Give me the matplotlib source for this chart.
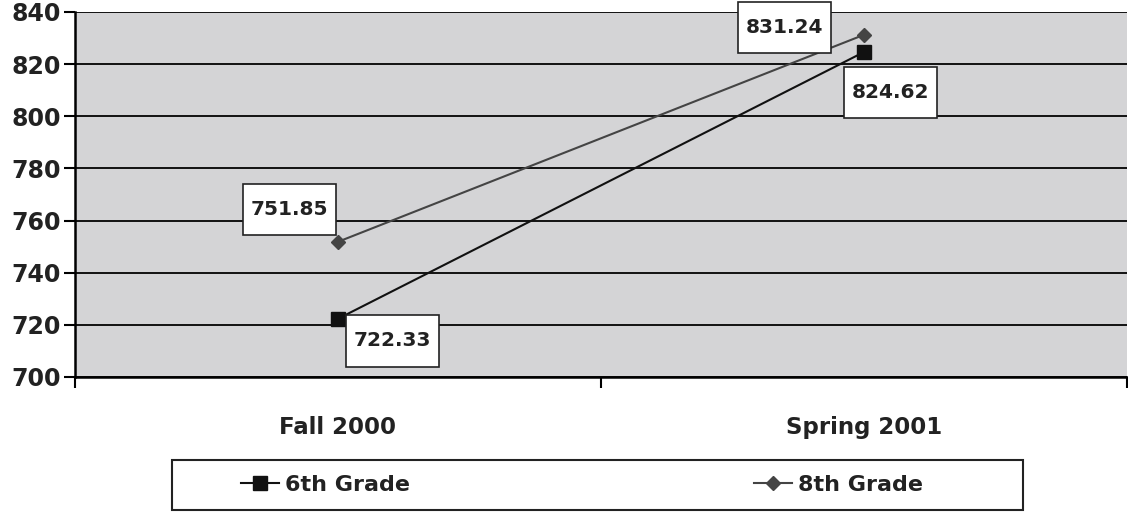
import matplotlib
matplotlib.use("Agg")
import matplotlib.pyplot as plt
from matplotlib.patches import Rectangle
from matplotlib.path import Path

categories = ["Fall 2000", "Spring 2001"]
grade6 = [722.33, 824.62]
grade8 = [751.85, 831.24]
series_names = ["6th Grade", "8th Grade"]
yticks = [700, 720, 740, 760, 780, 800, 820, 840]

plt.rcParams['font.family'] = ['DejaVu Sans']
plt.rcParams['font.weight'] = 'bold'


class PadBox:
    def __init__(self, padx, pady):
        self.padx = padx
        self.pady = pady

    def __call__(self, x0, y0, width, height, mutation_size):
        px = self.padx * mutation_size
        py = self.pady * mutation_size
        x0, y0 = x0 - px, y0 - py
        x1, y1 = x0 + width + 2 * px, y0 + height + 2 * py
        return Path([(x0, y0), (x1, y0), (x1, y1), (x0, y1), (x0, y0)], closed=True)


fig = plt.figure(figsize=(11.28, 5.12), dpi=100)
ax = fig.add_axes([0.0665, 0.2637, 0.9325, 0.7129])
ax.set_facecolor('#d4d4d6')

x = list(range(len(categories)))
l6, = ax.plot(x, grade6, color='#111111', lw=1.5, marker='s', markersize=10,
              markeredgecolor='#111111', markerfacecolor='#111111', zorder=4)
l8, = ax.plot(x, grade8, color='#444444', lw=1.5, marker='D', markersize=7,
              markeredgecolor='#444444', markerfacecolor='#444444', zorder=4)

ax.set_xlim(-0.5, 1.5)
ax.set_ylim(700, 840)
ax.set_yticks(yticks)
ax.set_yticklabels([str(v) for v in yticks], fontsize=17, fontweight='bold', color='#222222')
for v in yticks:
    ax.axhline(v, color='#111111', lw=1.4, zorder=1)

ax.set_xticks([-0.5, 0.5, 1.5])
ax.set_xticklabels(['', '', ''])
ax.set_xticks(x, minor=True)
ax.set_xticklabels(categories, minor=True, fontsize=16.5, fontweight='bold', color='#222222')
ax.tick_params(axis='x', which='minor', length=0, pad=28)
ax.tick_params(axis='x', which='major', length=8, width=1.5, direction='out')
ax.tick_params(axis='y', length=8, width=1.5, pad=2, direction='out')

for s in ['top', 'right']:
    ax.spines[s].set_visible(False)
ax.spines['left'].set_linewidth(1.8)
ax.spines['bottom'].set_linewidth(1.8)

bbox = dict(boxstyle=PadBox(0.38, 0.8), facecolor='white', edgecolor='#222222', lw=1.2)
offsets6 = [(39, -16), (19, -29)]
offsets8 = [(-35, 23), (-57, 5)]
for xi, v, off in zip(x, grade6, offsets6):
    ax.annotate(f"{v:.2f}", (xi, v), xytext=off, textcoords='offset points',
                ha='center', va='center', fontsize=14.5, fontweight='bold',
                color='#222222', bbox=bbox, zorder=5)
for xi, v, off in zip(x, grade8, offsets8):
    ax.annotate(f"{v:.2f}", (xi, v), xytext=off, textcoords='offset points',
                ha='center', va='center', fontsize=14.5, fontweight='bold',
                color='#222222', bbox=bbox, zorder=5)

fig.patches.append(Rectangle((172/1128, 2/512), 851/1128, 50/512, transform=fig.transFigure,
                             facecolor='white', edgecolor='#222222', lw=1.5))
leg = fig.legend([l6, l8], series_names, loc='center', bbox_to_anchor=(582/1128, 27/512),
                 ncol=2, frameon=False, handlelength=1.7, handletextpad=0.25,
                 columnspacing=15.5, prop={'weight': 'bold', 'size': 16})
for t in leg.get_texts():
    t.set_color('#222222')

fig.savefig('out.png', dpi=100)
